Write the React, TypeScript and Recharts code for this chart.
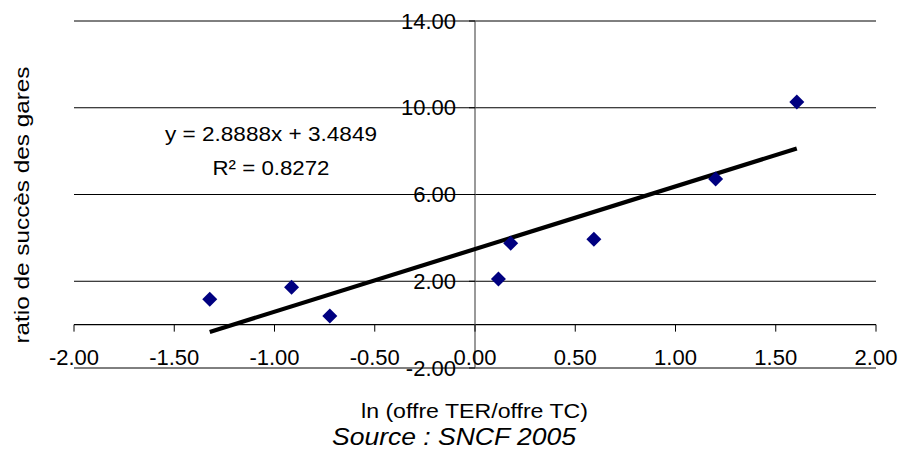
import React from 'react';
import {
  ScatterChart, Scatter, XAxis, YAxis, CartesianGrid, ReferenceLine
} from 'recharts';

// values
const lnOffre = [-1.323, -0.915, -0.724, 0.117, 0.178, 0.593, 1.2, 1.605];
const ratioSucces = [1.17, 1.72, 0.4, 2.1, 3.75, 3.94, 6.71, 10.26];
const xTicks = [-2, -1.5, -1, -0.5, 0, 0.5, 1, 1.5, 2];
const yTicks = [-2, 2, 6, 10, 14];
const slope = 2.8888;
const intercept = 3.4849;
const equationText = 'y = 2.8888x + 3.4849';
const r2Text = 'R² = 0.8272';

const W = 903;
const H = 450;
const AXIS_X_H = 30;
const AXIS_Y_W = 30;
const PLOT = { top: 21, right: 27, bottom: 82, left: 74 };
const M = { top: PLOT.top, right: PLOT.right, bottom: PLOT.bottom - AXIS_X_H, left: PLOT.left - AXIS_Y_W };
const PLOT_W = W - PLOT.left - PLOT.right;
const PLOT_H = H - PLOT.top - PLOT.bottom;
const ZERO_Y = PLOT.top + PLOT_H * 14 / 16;
const ZERO_X = PLOT.left + PLOT_W / 2;
const FONT = '"Liberation Sans", Arial, sans-serif';

const points = lnOffre.map((x, i) => ({ x, y: ratioSucces[i] }));
const xMin = Math.min(...lnOffre);
const xMax = Math.max(...lnOffre);
const trend = [
  { x: xMin, y: slope * xMin + intercept },
  { x: xMax, y: slope * xMax + intercept },
];

const XTick = (props: any) => {
  const { x, payload } = props;
  return (
    <g>
      <line x1={x} x2={x} y1={ZERO_Y} y2={ZERO_Y + 7} stroke="#000" />
      <text x={x} y={ZERO_Y + 40} textAnchor="middle" fontSize={22} fontFamily={FONT} fill="#000">
        {Number(payload.value).toFixed(2)}
      </text>
    </g>
  );
};

const YTick = (props: any) => {
  const { y, payload } = props;
  return (
    <g>
      <line x1={ZERO_X - 6} x2={ZERO_X} y1={y} y2={y} stroke="#000" />
      <text x={ZERO_X - 19} y={y + 7.5} textAnchor="end" fontSize={22} fontFamily={FONT} fill="#000">
        {Number(payload.value).toFixed(2)}
      </text>
    </g>
  );
};

const Diamond = (props: any) => {
  const { cx, cy } = props;
  const r = 7.5;
  return (
    <polygon
      points={`${cx},${cy - r} ${cx + r},${cy} ${cx},${cy + r} ${cx - r},${cy}`}
      fill="#000080"
    />
  );
};

export default function App() {
  return (
    <div style={{ position: 'absolute', left: 0, top: 0, width: W, height: H, background: '#fff' }}>
      <ScatterChart width={W} height={H} margin={M}>
        <CartesianGrid vertical={false} stroke="#000" strokeWidth={1} />
        <XAxis
          type="number" dataKey="x" domain={[-2, 2]} ticks={xTicks} interval={0}
          height={AXIS_X_H} axisLine={false} tickLine={false} tick={<XTick />}
        />
        <YAxis
          type="number" dataKey="y" domain={[-2, 14]} ticks={yTicks} interval={0}
          width={AXIS_Y_W} axisLine={false} tickLine={false} tick={<YTick />}
        />
        <ReferenceLine y={0} stroke="#000" strokeWidth={1.2} />
        <ReferenceLine x={0} stroke="#555" strokeWidth={1.2} />
        <Scatter
          data={trend} isAnimationActive={false}
          line={{ stroke: '#000', strokeWidth: 4.2 }} shape={() => <g />}
        />
        <Scatter data={points} isAnimationActive={false} shape={Diamond} />
      </ScatterChart>
      <svg width={W} height={H} style={{ position: 'absolute', left: 0, top: 0, pointerEvents: 'none' }}>
        <text
          transform="translate(29,205) rotate(-90)" textAnchor="middle"
          fontSize={21} fontFamily={FONT} textLength={277} lengthAdjust="spacingAndGlyphs"
        >
          ratio de succès des gares
        </text>
        <text x={271} y={141} textAnchor="middle" fontSize={20} fontFamily={FONT}
          textLength={212} lengthAdjust="spacingAndGlyphs">
          {equationText}
        </text>
        <text x={271} y={175} textAnchor="middle" fontSize={20} fontFamily={FONT}
          textLength={117} lengthAdjust="spacingAndGlyphs">
          {r2Text}
        </text>
        <text x={474.5} y={418} textAnchor="middle" fontSize={21} fontFamily={FONT}
          textLength={227} lengthAdjust="spacingAndGlyphs">
          ln (offre TER/offre TC)
        </text>
        <text x={454} y={445} textAnchor="middle" fontSize={23} fontStyle="italic" fontFamily={FONT}
          textLength={244} lengthAdjust="spacingAndGlyphs">
          Source : SNCF 2005
        </text>
      </svg>
    </div>
  );
}
